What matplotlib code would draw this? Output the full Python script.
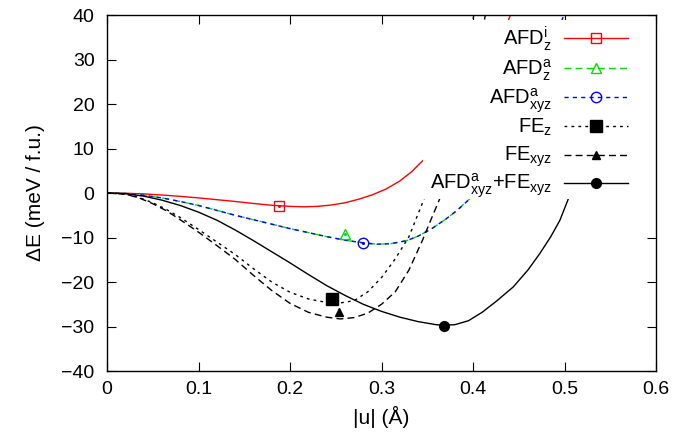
import matplotlib
matplotlib.use('Agg')
import matplotlib.pyplot as plt
from matplotlib.patches import Rectangle

plt.rcParams['font.family'] = ['Liberation Sans', 'DejaVu Sans']
plt.rcParams['mathtext.default'] = 'regular'

# curves (|u| in A, dE in meV/f.u.)
afd_zi_x = [0.0, 0.02, 0.04, 0.06, 0.08, 0.10, 0.12, 0.14, 0.16, 0.18, 0.20, 0.215, 0.23, 0.245, 0.26, 0.275,
            0.29, 0.305, 0.32, 0.333, 0.3457, 0.36, 0.38, 0.40, 0.42, 0.44, 0.46]
afd_zi_y = [0.0, -0.05, -0.2, -0.45, -0.75, -1.1, -1.5, -1.9, -2.35, -2.75, -3.0, -3.1, -3.0, -2.7, -2.2, -1.4,
            -0.4, 0.9, 2.7, 4.8, 7.4, 10.5, 15.5, 21.5, 29.5, 39.5, 51.0]

afd_za_x = [0.0, 0.02, 0.04, 0.06, 0.08, 0.10, 0.12, 0.14, 0.16, 0.18, 0.20, 0.22, 0.24, 0.26, 0.28, 0.295,
            0.31, 0.3275, 0.34, 0.355, 0.37, 0.382, 0.396, 0.41, 0.43, 0.45, 0.47, 0.49, 0.50, 0.51]
afd_za_y = [0.0, -0.1, -0.5, -1.1, -1.9, -2.8, -3.9, -5.0, -6.0, -7.0, -8.0, -8.9, -9.8, -10.6, -11.2, -11.5,
            -11.4, -10.7, -9.7, -8.0, -5.9, -4.0, -1.4, 1.8, 7.5, 15.0, 24.0, 34.5, 40.5, 47.0]

afd_xyz_x = afd_za_x
afd_xyz_y = afd_za_y

fe_z_x = [0.0, 0.02, 0.035, 0.05, 0.065, 0.08, 0.10, 0.12, 0.14, 0.16, 0.18, 0.20, 0.22, 0.24, 0.255, 0.27,
          0.285, 0.30, 0.315, 0.33, 0.346, 0.36, 0.375, 0.39, 0.40, 0.41]
fe_z_y = [0.0, -0.25, -1.0, -2.2, -3.7, -5.5, -8.2, -11.0, -13.8, -17.0, -20.0, -22.3, -23.8, -24.6, -24.7, -24.2,
          -22.2, -19.0, -14.8, -9.8, -1.6, 5.5, 14.5, 26.5, 39.0, 50.0]

fe_xyz_x = [0.0, 0.02, 0.035, 0.05, 0.065, 0.08, 0.10, 0.12, 0.14, 0.16, 0.18, 0.20, 0.22, 0.24, 0.255, 0.27,
            0.285, 0.30, 0.315, 0.33, 0.345, 0.355, 0.363, 0.375, 0.39, 0.40, 0.413, 0.42]
fe_xyz_y = [0.0, -0.25, -1.1, -2.4, -4.0, -6.0, -8.8, -11.8, -14.9, -18.5, -21.9, -24.8, -26.8, -27.9, -28.3, -28.0,
            -27.0, -25.0, -22.2, -17.3, -10.5, -5.5, -1.6, 5.0, 15.5, 24.0, 39.5, 47.0]

afd_fe_x = [0.0, 0.02, 0.04, 0.06, 0.08, 0.10, 0.12, 0.14, 0.16, 0.18, 0.20, 0.22, 0.24, 0.26, 0.28, 0.30,
            0.32, 0.34, 0.36, 0.3675, 0.38, 0.395, 0.41, 0.425, 0.444, 0.46, 0.473, 0.485, 0.495, 0.504, 0.515,
            0.53, 0.54]
afd_fe_y = [0.0, -0.15, -0.7, -1.6, -2.8, -4.3, -6.1, -8.3, -10.7, -13.2, -15.7, -18.3, -20.8, -23.0, -25.0, -26.6,
            -27.9, -28.9, -29.6, -29.7, -29.6, -28.7, -26.8, -24.4, -21.1, -17.3, -13.6, -9.8, -6.1, -1.4, 4.0,
            12.0, 18.0]

# DFT points (one per series)
pt_x = [0.188, 0.260, 0.2794, 0.2456, 0.254, 0.3687]
pt_y = [-2.85, -9.3, -11.3, -23.9, -26.8, -29.8]

labels = [r'AFD$_{z}^{i}$', r'AFD$_{z}^{a}$', r'AFD$_{xyz}^{a}$', r'FE$_{z}$', r'FE$_{xyz}$',
          r'AFD$_{xyz}^{a}$+FE$_{xyz}$']
colors = ['#ff0000', '#00dd00', '#0000ff', 'black', 'black', 'black']
styles = ['-', (0, (5, 3)), (0, (3, 3)), (0, (2, 3)), (0, (5, 3)), '-']
markers = ['s', '^', 'o', 's', '^', 'o']
msizes = [7, 7, 7.5, 8.5, 5.5, 7]
filled = [False, False, False, True, True, True]

curves = [(afd_zi_x, afd_zi_y), (afd_za_x, afd_za_y), (afd_xyz_x, afd_xyz_y),
          (fe_z_x, fe_z_y), (fe_xyz_x, fe_xyz_y), (afd_fe_x, afd_fe_y)]

fig = plt.figure(figsize=(6.83, 4.43), dpi=100)
ax = fig.add_axes([0.1567, 0.1625, 0.8038, 0.8036])

for i, (cx, cy) in enumerate(curves):
    ax.plot(cx, cy, color=colors[i], linestyle=styles[i], linewidth=1.0, zorder=2)
    fc = colors[i] if filled[i] else 'none'
    ax.plot(pt_x[i], pt_y[i], linestyle='none', marker=markers[i], markersize=msizes[i],
            markerfacecolor=fc, markeredgecolor=colors[i], markeredgewidth=1.0, zorder=2.1)
    if not filled[i]:
        ax.plot(pt_x[i], pt_y[i], linestyle='none', marker='o', markersize=1.2, color=colors[i], zorder=2.1)

# opaque key area
ax.add_patch(Rectangle((0.345, -1.4), 0.3, 40.3, facecolor='white', edgecolor='none', zorder=2.2))

row_y = [38.3, 68.3, 97.3, 126.0, 154.6, 182.7]
for i, lab in enumerate(labels):
    yy = (371 - row_y[i]) / 356
    ax.text(0.8106, yy - 6.5 / 356, lab, transform=ax.transAxes, ha='right', va='baseline',
            fontsize=14.5, zorder=4)
    ax.plot([0.8324, 0.949], [yy, yy], transform=ax.transAxes, color=colors[i], linestyle=styles[i],
            linewidth=1.0, clip_on=False, zorder=4)
    fc = colors[i] if filled[i] else 'none'
    ax.plot([0.8907], [yy], transform=ax.transAxes, linestyle='none', marker=markers[i],
            markersize=msizes[i], markerfacecolor=fc, markeredgecolor=colors[i], clip_on=False, zorder=4)

ax.set_xlim(0, 0.6)
ax.set_ylim(-40, 40)
ax.set_xticks([0, 0.1, 0.2, 0.3, 0.4, 0.5, 0.6])
ax.set_xticklabels(['0', '0.1', '0.2', '0.3', '0.4', '0.5', '0.6'])
ax.set_yticks(range(-40, 41, 10))
ax.tick_params(direction='in', top=True, right=True, length=6.5, width=0.8, labelsize=14)
ax.tick_params(axis='x', pad=7)
ax.tick_params(axis='y', pad=9)
for sp in ax.spines.values():
    sp.set_linewidth(1.0)
ax.set_xlabel('|u| (Å)', fontsize=15, labelpad=6)
ax.set_ylabel('ΔE (meV / f.u.)', fontsize=15, labelpad=12)

fig.savefig('out.png', dpi=100)
